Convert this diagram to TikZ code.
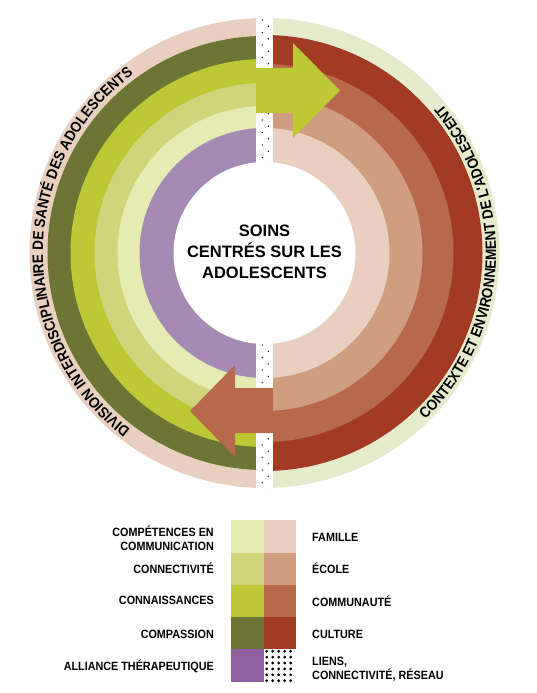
\documentclass[tikz,border=0pt]{standalone}
\usepackage{fontspec}
\setmainfont{Liberation Sans}
\newfontfamily\condf{Liberation Sans}[FakeStretch=0.9]
\usetikzlibrary{decorations.text}
\definecolor{beigeL}{HTML}{E8CFC0}
\definecolor{olive}{HTML}{6C7533}
\definecolor{limeA}{HTML}{BCC934}
\definecolor{limeB}{HTML}{D0D57B}
\definecolor{limeC}{HTML}{E6EAB3}
\definecolor{purpR}{HTML}{A58BB3}
\definecolor{purpL}{HTML}{8E60A0}
\definecolor{paleG}{HTML}{E6EBCD}
\definecolor{redC}{HTML}{A33B24}
\definecolor{commC}{HTML}{B8694B}
\definecolor{ecoleC}{HTML}{CF9D80}
\definecolor{famC}{HTML}{E9CFC0}
\tikzset{
  legfont/.style={font=\condf\bfseries\fontsize{12}{13}\selectfont, inner sep=0pt},
  legL/.style={legfont, anchor=base east},
  legR/.style={legfont, anchor=base west},
  ctext/.style={font=\bfseries\fontsize{16.5}{20}\selectfont, inner sep=0pt, anchor=base},
  dotsty/.style={fill=black},
}
\begin{document}
\begin{tikzpicture}[x=1pt,y=1pt]
\useasboundingbox (0,0) rectangle (536,-693);
\coordinate (C) at (264.5,-253);
% left half rings
\foreach \r/\c in {235/beigeL,217/olive,194/limeA,170/limeB,147/limeC,125/purpR}{
  \fill[\c] (C) -- ([shift={(90:\r pt)}]C) arc[start angle=90,end angle=270,radius=\r pt] -- cycle;
}
% right half rings
\foreach \r/\c in {235/paleG,218/redC,189/commC,158/ecoleC,125/famC}{
  \fill[\c] (C) -- ([shift={(-90:\r pt)}]C) arc[start angle=-90,end angle=90,radius=\r pt] -- cycle;
}
\fill[white] (C) circle[radius=91pt];
% strip
\fill[white] (256,-15) rectangle (273,-492);
\begin{scope}
  \clip (256,-19) rectangle (273,-163) (256,-343) rectangle (273,-488);
  \foreach \k in {0,...,38}{
    \fill[dotsty] (262.3,-20-12.5*\k) circle[radius=0.7pt];
    \fill[dotsty] (268.3,-26.25-12.5*\k) circle[radius=0.7pt];
  }
\end{scope}
% arrows
\fill[limeA] (256,-68) -- (293,-68) -- (293,-43) -- (340,-90.5) -- (293,-138) -- (293,-113) -- (256,-113) -- cycle;
\fill[commC] (273,-388) -- (235,-388) -- (235,-365) -- (190,-411) -- (235,-457) -- (235,-433) -- (273,-433) -- cycle;
% curved texts
\path[decorate, decoration={text along path, text align=center,
  text={|\condf\bfseries\fontsize{15}{15}\selectfont|DIVISION INTERDISCIPLINAIRE DE SANTÉ DES ADOLESCENTS}}]
  ([shift={(252:221.5pt)}]C) arc[start angle=252,end angle=107,radius=221.5pt];
\path[decorate, decoration={text along path, text align=center,
  text={|\condf\bfseries\fontsize{15}{15}\selectfont|CONTEXTE ET ENVIRONNEMENT DE L'ADOLESCENT}}]
  ([shift={(-72:231.5pt)}]C) arc[start angle=-72,end angle=66,radius=231.5pt];
% centre text
\node[ctext] (c1) at (264.5,-236.7) {SOINS};
\node[ctext] (c2) at (264.5,-257.7) {CENTRÉS SUR LES};
\node[ctext] (c3) at (264.5,-278.3) {ADOLESCENTS};
% legend swatches
\fill[limeC] (231,-520) rectangle (264,-553);
\fill[limeB] (231,-553) rectangle (264,-585);
\fill[limeA] (231,-585) rectangle (264,-617);
\fill[olive] (231,-617) rectangle (264,-649);
\fill[purpL] (231,-649) rectangle (264,-682);
\fill[famC] (264,-520) rectangle (296,-553);
\fill[ecoleC] (264,-553) rectangle (296,-585);
\fill[commC] (264,-585) rectangle (296,-617);
\fill[redC] (264,-617) rectangle (296,-649);
\foreach \i in {0,...,4}{
  \foreach \j in {0,...,5}{
    \fill[dotsty] (266.7+6*\i,-651.2-5.9*\j) circle[radius=1.55pt];
  }
}
% legend labels
\node[legL] (l1a) at (214,-536.7) {COMPÉTENCES EN};
\node[legL] (l1b) at (214,-550) {COMMUNICATION};
\node[legL] (l2) at (214,-573.3) {CONNECTIVITÉ};
\node[legL] (l3) at (214,-604.3) {CONNAISSANCES};
\node[legL] (l4) at (214,-638.3) {COMPASSION};
\node[legL] (l5) at (214,-670) {ALLIANCE THÉRAPEUTIQUE};
\node[legR] (r1) at (312,-541) {FAMILLE};
\node[legR] (r2) at (312,-573.3) {ÉCOLE};
\node[legR] (r3) at (312,-606.7) {COMMUNAUTÉ};
\node[legR] (r4) at (312,-638.3) {CULTURE};
\node[legR] (r5a) at (312,-665.7) {LIENS,};
\node[legR] (r5b) at (312,-679.3) {CONNECTIVITÉ, RÉSEAU};
\end{tikzpicture}
\end{document}
